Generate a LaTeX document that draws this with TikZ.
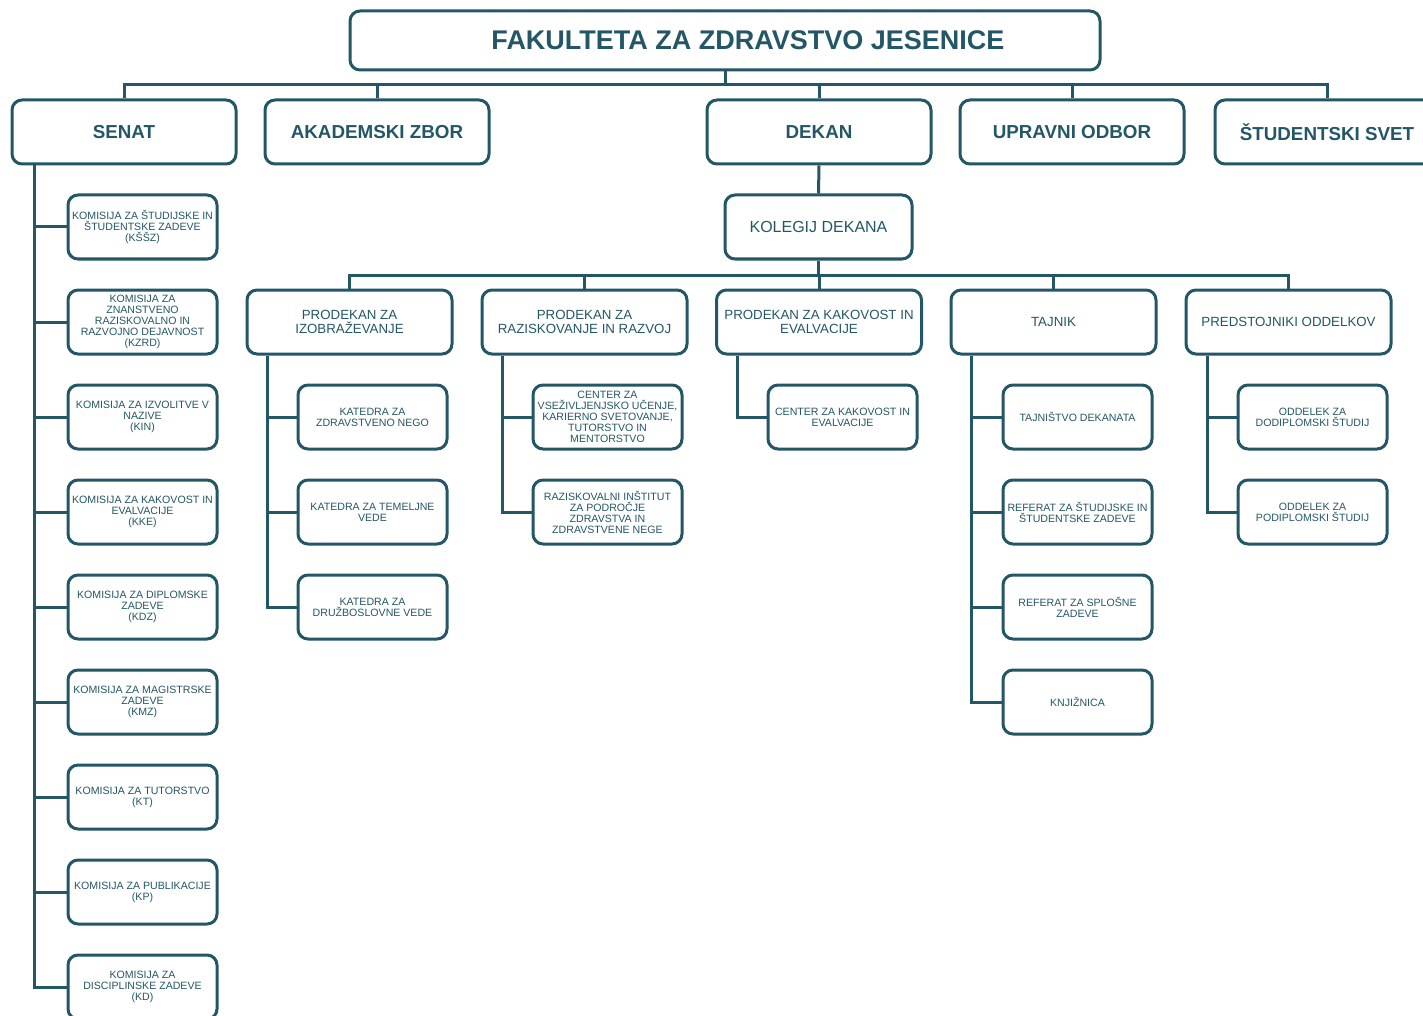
\documentclass[tikz,border=0pt]{standalone}
\usepackage{fontspec}
\setmainfont{Liberation Sans}
\definecolor{fzj}{RGB}{36,87,102}
\begin{document}
\begin{tikzpicture}[x=1pt,y=-1pt,
  box/.style={draw=fzj, line width=3pt, rounded corners=10pt, text=fzj, align=center, inner sep=0pt},
  titlebox/.style={box, minimum width=750pt, minimum height=59pt, font=\bfseries\fontsize{27}{30}\selectfont},
  topbox/.style={box, minimum width=224pt, minimum height=64pt, font=\bfseries\fontsize{18.8}{21}\selectfont},
  kolbox/.style={box, minimum width=187pt, minimum height=64pt, font=\fontsize{16}{18}\selectfont},
  midbox/.style={box, minimum width=205pt, minimum height=64pt, font=\fontsize{13.3}{14}\selectfont},
  smallbox/.style={box, minimum width=149pt, minimum height=64pt, font=\fontsize{10.6}{11}\selectfont},
  conn/.style={draw=fzj, line width=3pt}]
\fill[white] (0,0) rectangle (1423,1016);
\useasboundingbox (0,0) rectangle (1423,1016);
% title and top row
\node[titlebox] (title) at (725,40.5) {\hspace*{46pt}FAKULTETA ZA ZDRAVSTVO JESENICE};
\node[topbox] (senat) at (124,132) {SENAT};
\node[topbox] (akad) at (377,132) {AKADEMSKI ZBOR};
\node[topbox] (dekan) at (819,132) {DEKAN};
\node[topbox] (upravni) at (1072,132) {UPRAVNI ODBOR};
\node[topbox] (stud) at (1327,132) {ŠTUDENTSKI SVET};
\node[kolbox] (kolegij) at (818.5,227) {KOLEGIJ DEKANA};
% second row
\node[midbox] (p1) at (349.5,322) {PRODEKAN ZA\\IZOBRAŽEVANJE};
\node[midbox] (p2) at (584.5,322) {PRODEKAN ZA\\RAZISKOVANJE IN RAZVOJ};
\node[midbox] (p3) at (819,322) {PRODEKAN ZA KAKOVOST IN\\EVALVACIJE};
\node[midbox] (p4) at (1053.5,322) {TAJNIK};
\node[midbox] (p5) at (1288.5,322) {PREDSTOJNIKI ODDELKOV};
% senat commissions
\node[smallbox] (k1) at (142.5,227) {KOMISIJA ZA ŠTUDIJSKE IN\\ŠTUDENTSKE ZADEVE\\(KŠŠZ)};
\node[smallbox] (k2) at (142.5,322) {KOMISIJA ZA\\ZNANSTVENO\\RAZISKOVALNO IN\\RAZVOJNO DEJAVNOST\\(KZRD)};
\node[smallbox] (k3) at (142.5,417) {KOMISIJA ZA IZVOLITVE V\\NAZIVE\\(KIN)};
\node[smallbox] (k4) at (142.5,512) {KOMISIJA ZA KAKOVOST IN\\EVALVACIJE\\(KKE)};
\node[smallbox] (k5) at (142.5,607) {KOMISIJA ZA DIPLOMSKE\\ZADEVE\\(KDZ)};
\node[smallbox] (k6) at (142.5,702) {KOMISIJA ZA MAGISTRSKE\\ZADEVE\\(KMZ)};
\node[smallbox] (k7) at (142.5,797) {KOMISIJA ZA TUTORSTVO\\(KT)};
\node[smallbox] (k8) at (142.5,892) {KOMISIJA ZA PUBLIKACIJE\\(KP)};
\node[smallbox] (k9) at (142.5,987) {KOMISIJA ZA\\DISCIPLINSKE ZADEVE\\(KD)};
% katedre
\node[smallbox] (c1) at (372.5,417) {KATEDRA ZA\\ZDRAVSTVENO NEGO};
\node[smallbox] (c2) at (372.5,512) {KATEDRA ZA TEMELJNE\\VEDE};
\node[smallbox] (c3) at (372.5,607) {KATEDRA ZA\\DRUŽBOSLOVNE VEDE};
% raziskovanje
\node[smallbox] (r1) at (607.5,417) {CENTER ZA\\VSEŽIVLJENJSKO UČENJE,\\KARIERNO SVETOVANJE,\\TUTORSTVO IN\\MENTORSTVO};
\node[smallbox] (r2) at (607.5,512) {RAZISKOVALNI INŠTITUT\\ZA PODROČJE\\ZDRAVSTVA IN\\ZDRAVSTVENE NEGE};
% kakovost
\node[smallbox] (q1) at (842.5,417) {CENTER ZA KAKOVOST IN\\EVALVACIJE};
% tajnik
\node[smallbox] (t1) at (1077.5,417) {TAJNIŠTVO DEKANATA};
\node[smallbox] (t2) at (1077.5,512) {REFERAT ZA ŠTUDIJSKE IN\\ŠTUDENTSKE ZADEVE};
\node[smallbox] (t3) at (1077.5,607) {REFERAT ZA SPLOŠNE\\ZADEVE};
\node[smallbox] (t4) at (1077.5,702) {KNJIŽNICA};
% predstojniki
\node[smallbox] (o1) at (1312.5,417) {ODDELEK ZA\\DODIPLOMSKI ŠTUDIJ};
\node[smallbox] (o2) at (1312.5,512) {ODDELEK ZA\\PODIPLOMSKI ŠTUDIJ};
% connectors
\coordinate (busA) at (0,85);
\coordinate (busB) at (0,275);
\draw[conn] (title.south) -- (title.south |- busA);
\draw[conn] (senat.north) |- (stud.north |- busA) -- (stud.north);
\foreach \n in {akad,dekan,upravni} \draw[conn] (\n.north) -- (\n.north |- busA);
\draw[conn] (dekan.south) -- (kolegij.north);
\draw[conn] (kolegij.south) -- (kolegij.south |- busB);
\draw[conn] (p1.north) |- (p5.north |- busB) -- (p5.north);
\foreach \n in {p2,p3,p4} \draw[conn] (\n.north) -- (\n.north |- busB);
% spines
\coordinate (sx0) at (34,0);
\coordinate (sx1) at (267,0);
\coordinate (sx2) at (502,0);
\coordinate (sx3) at (737,0);
\coordinate (sx4) at (971,0);
\coordinate (sx5) at (1207,0);
\draw[conn] (senat.south -| sx0) |- (k9.west);
\foreach \i in {1,...,8} \draw[conn] (k\i.west) -- (k\i.west -| sx0);
\draw[conn] (p1.south -| sx1) |- (c3.west);
\foreach \i in {1,2} \draw[conn] (c\i.west) -- (c\i.west -| sx1);
\draw[conn] (p2.south -| sx2) |- (r2.west);
\draw[conn] (r1.west) -- (r1.west -| sx2);
\draw[conn] (p3.south -| sx3) |- (q1.west);
\draw[conn] (p4.south -| sx4) |- (t4.west);
\foreach \i in {1,2,3} \draw[conn] (t\i.west) -- (t\i.west -| sx4);
\draw[conn] (p5.south -| sx5) |- (o2.west);
\draw[conn] (o1.west) -- (o1.west -| sx5);
\end{tikzpicture}
\end{document}
